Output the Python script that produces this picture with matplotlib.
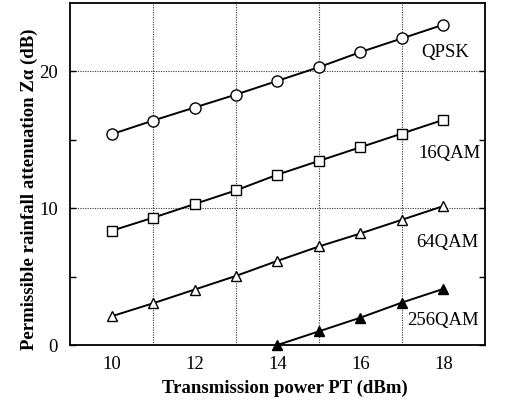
import numpy as np
import matplotlib
matplotlib.use("Agg")
import matplotlib.pyplot as plt

plt.rcParams['font.family'] = ['Liberation Serif', 'DejaVu Serif']

# Transmission power (dBm)
power = [10, 11, 12, 13, 14, 15, 16, 17, 18]
power_256 = [14, 15, 16, 17, 18]

# permissible rainfall attenuation (dB)
qpsk = [15.4, 16.4, 17.35, 18.3, 19.3, 20.3, 21.4, 22.4, 23.4]
qam16 = [8.35, 9.3, 10.3, 11.3, 12.45, 13.45, 14.45, 15.45, 16.45]
qam64 = [2.1, 3.05, 4.05, 5.05, 6.15, 7.2, 8.15, 9.15, 10.15]
qam256 = [0.0, 1.0, 2.0, 3.1, 4.1]

labels = ['QPSK', '16QAM', '64QAM', '256QAM']
label_pos = [(18.05, 21.4), (18.15, 14.0), (18.1, 7.5), (18.0, 1.8)]

fig = plt.figure(figsize=(5.05, 4.04), dpi=100)
ax = fig.add_axes([0.139, 0.146, 0.821, 0.847])

# grid: dotted lines at odd x and y = 10, 20
for xv in [11, 13, 15, 17]:
    ax.axvline(xv, color='#333333', lw=0.8, ls=(0, (1, 1.2)), zorder=1)
for yv in [10, 20]:
    ax.axhline(yv, color='#333333', lw=0.8, ls=(0, (1, 1.2)), zorder=1)

ax.plot(power, qpsk, '-o', color='black', lw=1.4, ms=8, mfc='white', mew=1.0, zorder=3)
ax.plot(power, qam16, '-s', color='black', lw=1.4, ms=7, mfc='white', mew=1.0, zorder=3)
ax.plot(power, qam64, '-^', color='black', lw=1.4, ms=7.5, mfc='white', mew=1.0, zorder=3)
ax.plot(power_256, qam256, '-^', color='black', lw=1.4, ms=7.5, mfc='black', mew=1.0,
        zorder=3, clip_on=False)

for lab, (lx, ly) in zip(labels, label_pos):
    ax.text(lx, ly, lab, fontsize=13.5, ha='center', va='center',
            bbox=dict(facecolor='white', edgecolor='none', pad=0.5), zorder=4)

ax.set_xlim(9, 19)
ax.set_ylim(0, 25)
ax.set_xticks([10, 12, 14, 16, 18])
ax.set_yticks([0, 5, 10, 15, 20])
ax.set_yticklabels(['0', '', '10', '', '20'])
ax.tick_params(axis='both', direction='in', labelsize=13.5, length=4, width=1,
               right=True, top=False)
ax.tick_params(axis='x', length=0, pad=8)
ax.tick_params(axis='y', pad=9)

for s in ax.spines.values():
    s.set_linewidth(1.3)

ax.set_xlabel('Transmission power PT (dBm)', fontsize=13.5, fontweight='bold')
ax.xaxis.set_label_coords(0.518, -0.10)
ax.set_ylabel('Permissible rainfall attenuation Zα (dB)', fontsize=13.5, fontweight='bold')
ax.yaxis.set_label_coords(-0.077, 0.456)

fig.savefig('out.png', dpi=100)
